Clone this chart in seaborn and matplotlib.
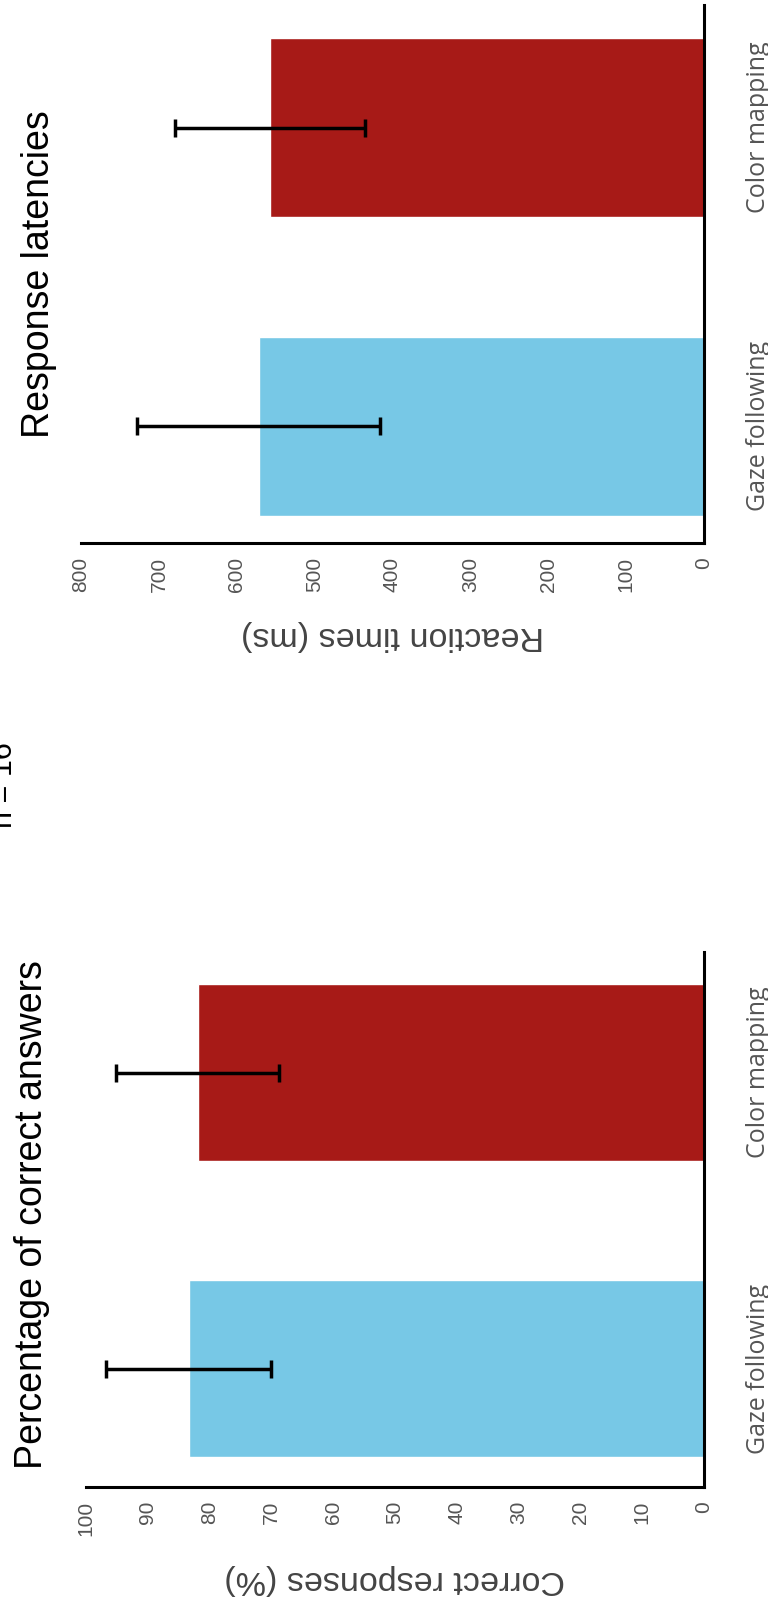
import matplotlib
matplotlib.use("Agg")
from matplotlib import pyplot as plt
import pandas as pd
import seaborn as sns

# two conditions, red on top, blue below (figure is turned on its side)
conditions = ["Color mapping", "Gaze following"]
bar_colors = ["#a71a17", "#77c8e6"]

# percentage of correct answers
accuracy_mean = [81.9, 83.4]
accuracy_err = [13.2, 13.4]

# response latencies in ms
latency_mean = [557, 572]
latency_err = [122, 156]

W, H = 768, 1605

sns.set_theme(style="white")
plt.rcParams["font.family"] = ["Liberation Sans", "DejaVu Sans"]

fig = plt.figure(figsize=(W / 100, H / 100), dpi=100)


def px_axes(x0, y0, x1, y1):
    # axes from pixel box (top-left origin)
    return fig.add_axes([x0 / W, 1 - y1 / H, (x1 - x0) / W, (y1 - y0) / H])


def draw_panel(ax, means, errs, vmax, step, xlabel, title, title_xy, ylim):
    df = pd.DataFrame({"condition": conditions, "value": means})
    sns.barplot(data=df, x="value", y="condition", order=conditions,
                hue="condition", palette=bar_colors, orient="h", width=0.6,
                errorbar=None, legend=False, saturation=1, ax=ax)
    ax.errorbar(means, range(len(conditions)), xerr=errs, fmt="none",
                ecolor="black", elinewidth=2.5, capsize=6.5, capthick=2.5,
                zorder=5)

    ax.set_xlim(vmax, 0)
    ax.set_ylim(*ylim)
    ax.set_xticks(range(0, vmax + 1, step))
    ax.tick_params(axis="x", direction="in", length=7, width=2,
                   labelsize=15, labelcolor="#555555", labelrotation=90,
                   pad=10, color="black")

    ax.yaxis.tick_right()
    ax.tick_params(axis="y", length=0, pad=30, labelsize=18,
                   labelcolor="#555555")
    for lab in ax.get_yticklabels():
        lab.set_fontfamily("Open Sans")
        lab.set_rotation(90)
        lab.set_va("center")

    for side in ["top", "left"]:
        ax.spines[side].set_visible(False)
    for side in ["bottom", "right"]:
        ax.spines[side].set_linewidth(2.2)
        ax.spines[side].set_color("black")

    ax.set_ylabel("")
    ax.set_xlabel(xlabel, fontsize=24.5, color="#444444", rotation=180,
                  labelpad=20)

    fig.text(title_xy[0] / W, 1 - title_xy[1] / H, title, rotation=90,
             ha="center", va="center", fontsize=27, color="black")


ax_top = px_axes(81, 5, 704, 543)
draw_panel(ax_top, latency_mean, latency_err, 800, 100,
           "Reaction times (ms)", "Response latencies", (39, 274),
           (1.39, -0.41))

ax_bot = px_axes(86, 952, 704, 1487)
draw_panel(ax_bot, accuracy_mean, accuracy_err, 100, 10,
           "Correct responses (%)", "Percentage of correct answers",
           (32, 1215), (1.40, -0.407))

# sample size, partly cut off at the left edge
fig.text(4 / W, 1 - 785 / H, "n = 16", rotation=90, ha="center",
         va="center", fontsize=22, color="black")

fig.savefig("out.png", dpi=100)
